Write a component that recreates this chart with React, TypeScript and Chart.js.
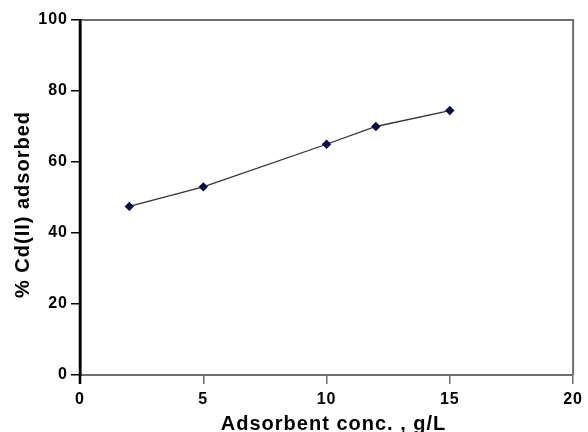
import React, { useEffect, useRef } from "react";
import { Chart, registerables } from "chart.js";

Chart.register(...registerables);

const adsorbentConc = [2, 5, 10, 12, 15];
const cdAdsorbed = [47.5, 53, 65, 70, 74.5];
const xTicks = [0, 5, 10, 15, 20];
const yTicks = [0, 20, 40, 60, 80, 100];
const xTitle = "Adsorbent conc. , g/L";
const yTitle = "% Cd(II) adsorbed";

const FONT = "'Liberation Sans', Arial, Helvetica, sans-serif";

const framePlugin = {
  id: "frame",
  beforeDraw(chart: any) {
    (chart.ctx as any).letterSpacing = "1px";
  },
  afterDraw(chart: any) {
    const { ctx, chartArea } = chart;
    ctx.save();
    ctx.strokeStyle = "#6e6e6e";
    ctx.lineWidth = 2;
    ctx.beginPath();
    ctx.moveTo(chartArea.left, chartArea.top);
    ctx.lineTo(chartArea.right, chartArea.top);
    ctx.lineTo(chartArea.right, chartArea.bottom);
    ctx.stroke();
    ctx.strokeStyle = "#000";
    ctx.lineWidth = 2.5;
    ctx.beginPath();
    ctx.moveTo(chartArea.left, chartArea.top - 1);
    ctx.lineTo(chartArea.left, chartArea.bottom + 9);
    ctx.stroke();

    // axis titles
    (ctx as any).letterSpacing = "1px";
    ctx.fillStyle = "#000";
    ctx.font = `bold 20px ${FONT}`;
    ctx.textAlign = "center";
    ctx.textBaseline = "alphabetic";
    ctx.fillText(xTitle, (chartArea.left + chartArea.right) / 2 + 7, 430);
    ctx.translate(29, (chartArea.top + chartArea.bottom) / 2 + 7);
    ctx.rotate(-Math.PI / 2);
    ctx.fillText(yTitle, 0, 0);
    ctx.restore();
  },
};

export default function App() {
  const ref = useRef<HTMLCanvasElement>(null);
  useEffect(() => {
    if (!ref.current) return;
    const chart = new Chart(ref.current, {
      type: "scatter",
      data: {
        datasets: [
          {
            data: adsorbentConc.map((x, i) => ({ x, y: cdAdsorbed[i] })),
            showLine: true,
            borderColor: "#333",
            borderWidth: 1.3,
            pointStyle: "rectRot",
            pointRadius: 3.8,
            pointBackgroundColor: "#0b0b45",
            pointBorderColor: "#0b0b45",
          },
        ],
      },
      plugins: [framePlugin],
      options: {
        animation: false,
        responsive: false,
        layout: { padding: { left: 0, top: 20, right: 13, bottom: 0 } },
        plugins: { legend: { display: false }, tooltip: { enabled: false } },
        scales: {
          x: {
            type: "linear",
            min: 0,
            max: 20,
            afterBuildTicks: (s: any) => {
              s.ticks = xTicks.map((v) => ({ value: v }));
            },
            afterFit: (s: any) => {
              s.height = 57;
            },
            border: { display: true, color: "#6e6e6e", width: 2 },
            grid: {
              drawOnChartArea: false,
              drawTicks: true,
              tickLength: 9,
              color: "#6e6e6e",
              lineWidth: 1.5,
            },
            ticks: {
              padding: 6,
              color: "#000",
              font: { family: FONT, size: 16, weight: "bold" },
            },
            title: { display: false },
          },
          y: {
            type: "linear",
            min: 0,
            max: 100,
            afterBuildTicks: (s: any) => {
              s.ticks = yTicks.map((v) => ({ value: v }));
            },
            afterFit: (s: any) => {
              s.width = 80;
            },
            border: { display: true, color: "#000", width: 2.5 },
            grid: {
              drawOnChartArea: false,
              drawTicks: true,
              tickLength: 9,
              color: "#000",
              lineWidth: 1.5,
            },
            ticks: {
              padding: 3,
              color: "#000",
              font: { family: FONT, size: 16, weight: "bold" },
            },
            title: { display: false },
          },
        },
      },
    } as any);
    return () => chart.destroy();
  }, []);
  return (
    <div style={{ position: "fixed", left: 0, top: 0, width: 588, height: 432, background: "#fff" }}>
      <canvas ref={ref} width={588} height={432} style={{ width: 588, height: 432 }} />
    </div>
  );
}
